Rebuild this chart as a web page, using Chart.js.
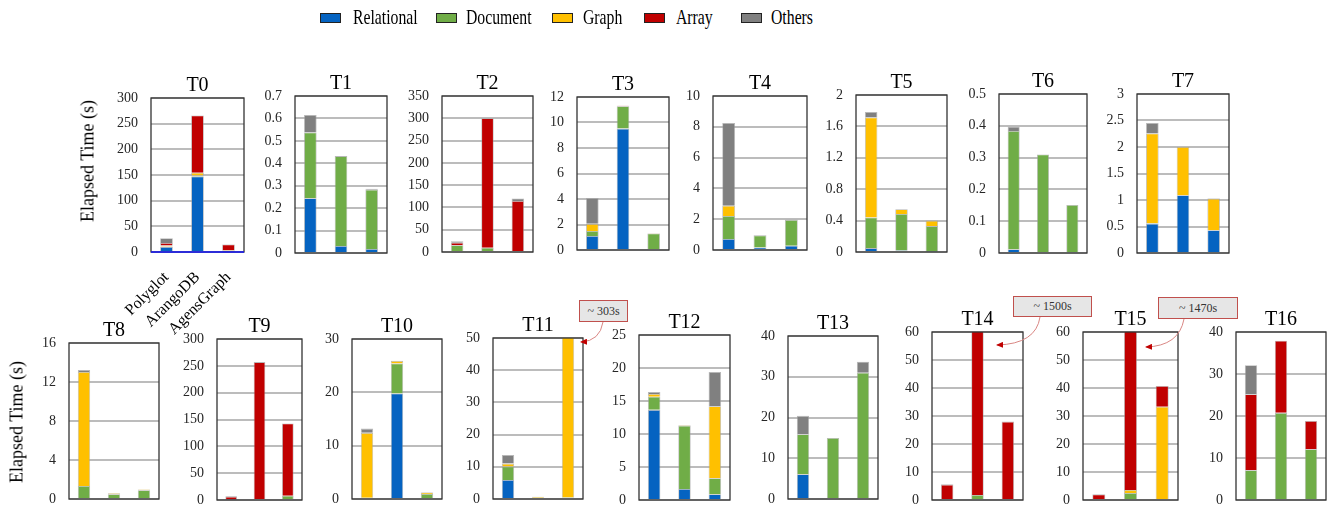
<!DOCTYPE html>
<html><head><meta charset="utf-8">
<script src="https://cdn.jsdelivr.net/npm/chart.js@4.4.1/dist/chart.umd.min.js"></script>
<style>
body{margin:0;background:#fff;width:1332px;height:513px;overflow:hidden;position:relative;font-family:"Liberation Serif","Times New Roman",serif;}
canvas{position:absolute;}
.lbox{position:absolute;top:13px;width:19px;height:8px;border:1px solid #222;}
.ltxt{position:absolute;top:5px;height:24px;line-height:24px;font-size:21px;color:#000;white-space:nowrap;transform:scaleX(0.75);transform-origin:0 50%;}
.ytitle{position:absolute;font-size:18px;white-space:nowrap;transform:translate(-50%,-50%) rotate(-90deg);color:#000;}
.note{position:absolute;background:#e6e6e6;border:1.5px solid #c0504d;box-sizing:border-box;font-size:12px;display:flex;align-items:center;justify-content:center;color:#333;z-index:6;}
</style></head><body>
<script>
// ---- data ----
const tasks = ['T0','T1','T2','T3','T4','T5','T6','T7','T8','T9','T10','T11','T12','T13','T14','T15','T16'];
const systems = ['Polyglot','ArangoDB','AgensGraph'];
const seriesNames = ['Relational','Document','Graph','Array','Others'];
const relational = [[10,147,0.5],[0.244,0.031,0.018],[0,0,0],[1.1,9.52,0],[0.71,0.17,0.28],[0.05,0.02,0.005],[0.012,0.003,0.002],[0.555,1.09,0.43],[0,0,0],[1,0,0],[0,19.8,0],[5.9,0,0],[13.66,1.67,0.86],[6.1,0,0],[0,0,0],[0,0,0],[0,0,0]];
const documentDB = [[0.5,2,0.5],[0.293,0.401,0.264],[15,9.8,2],[0.4,1.75,1.3],[1.5,0.78,1.67],[0.39,0.465,0.325],[0.372,0.307,0.149],[0.01,0,0.005],[1.33,0.5,0.9],[0,2,8],[0.25,5.6,0.94],[4.2,0.4,0.5],[2.0,9.6,2.44],[9.8,15,31],[0,1.8,0],[0,2.5,0],[7.1,20.75,12.1]];
const graph = [[2,5.5,2.5],[0,0,0],[0,0,0],[0.55,0.03,0.02],[0.67,0,0],[1.275,0.06,0.07],[0,0,0],[1.69,0.91,0.59],[11.7,0.08,0.08],[0,0,0],[12.15,0.5,0.25],[0.9,0.3,302.5],[0.4,0.1,10.9],[0,0,0],[0,0,0],[0.4,1.1,33.3],[0,0,0]];
const arrayDB = [[5,111.5,11],[0,0,0],[6,290.2,112.7],[0,0.02,0],[0,0,0],[0,0,0],[0,0,0],[0,0,0],[0,0,0],[5,255,134.5],[0,0,0],[0,0,0],[0,0,0],[0,0,0],[5.5,1498.2,28],[1.6,1466.4,7.45],[18.1,17.15,6.7]];
const others = [[9.5,0,0.5],[0.078,0,0.004],[3,0,5.3],[2.02,0,0],[5.37,0.02,0.02],[0.07,0,0],[0.013,0,0],[0.2,0,0.01],[0.2,0,0],[1.5,0,0],[0.8,0,0.06],[2.7,0,0],[0.3,0,5.2],[4.5,0,2.7],[0.2,0,0],[0.1,0,0],[6.9,0,0]];
const yMax = [300,0.7,350,12,10,2,0.5,3,16,300,30,50,25,40,60,60,40];
const yStep = [50,0.1,50,2,2,0.4,0.1,0.5,4,50,10,10,5,10,10,10,10];
const annotations = ['~ 303s','~ 1500s','~ 1470s'];

// ---- layout (plot area boxes: left, top, right, bottom) ----
const boxes = [[151,98,244,252],[295,96,387,253],[442,96,533,252],[577,97,669,250],[713,96,807,250],[856,95,947,252],[999,94,1087,253],[1137,94,1229,253],
               [69,343,159,499],[217,339,302,500],[352,339,442,499],[493,338,583,499],[639,335,730,500],[788,336,878,499],[932,332,1023,500],[1083,332,1178,500],[1236,332,1326,500]];
const colors = ['#0563C1','#70AD47','#FFC000','#C00000','#808080'];
const seriesData = [relational, documentDB, graph, arrayDB, others];
const FONT = '"Liberation Serif","Times New Roman",serif';

const framePlugin = {
  id: 'frame',
  afterDatasetsDraw(chart, args, opts) {
    const {ctx, chartArea: a} = chart;
    ctx.save();
    ctx.strokeStyle = '#333';
    ctx.lineWidth = 1.3;
    ctx.strokeRect(a.left, a.top, a.right - a.left, a.bottom - a.top);
    if (opts.blue) {
      ctx.strokeStyle = '#1a1aff';
      ctx.lineWidth = 1.6;
      ctx.beginPath(); ctx.moveTo(a.left, a.bottom); ctx.lineTo(a.right, a.bottom); ctx.stroke();
    }
    ctx.restore();
  }
};

const fmt = v => String(Number(Number(v).toFixed(4)));

tasks.forEach((t, i) => {
  const [L, T, R, B] = boxes[i];
  const AX = 62, PT = 36;
  const XH = i === 0 ? 90 : 0;
  const PB = i === 0 ? 4 : 22;
  const W = (R - L) + 2 * AX, H = (B - T) + PT + XH + PB;
  const cv = document.createElement('canvas');
  cv.width = W; cv.height = H;
  cv.style.left = (L - AX) + 'px'; cv.style.top = (T - PT) + 'px';
  cv.style.width = W + 'px'; cv.style.height = H + 'px';
  document.body.appendChild(cv);
  new Chart(cv, {
    type: 'bar',
    data: {
      labels: systems,
      datasets: seriesNames.map((n, k) => ({
        label: n, data: seriesData[k][i], backgroundColor: colors[k],
        borderColor: 'rgba(160,160,160,0.75)', borderWidth: 0.8,
        barPercentage: 0.41, categoryPercentage: 1
      }))
    },
    options: {
      responsive: false, animation: false, devicePixelRatio: 1,
      layout: {padding: {top: 12, left: 0, right: 0, bottom: PB}},
      plugins: {
        legend: {display: false}, tooltip: {enabled: false},
        title: {display: true, text: t, font: {family: FONT, size: 20, weight: 'normal'}, color: '#000', padding: {top: 0, bottom: 0}},
        frame: {blue: i === 0}
      },
      scales: {
        x: {stacked: true, display: i === 0, grid: {display: false, drawTicks: false}, border: {display: false},
            ticks: {autoSkip: false, minRotation: 45, maxRotation: 45, padding: 16, font: {family: FONT, size: 16}, color: '#000'},
            afterFit(s) { s.height = XH; }},
        y: {stacked: true, min: 0, max: yMax[i],
            ticks: {stepSize: yStep[i], padding: 13, font: {family: FONT, size: 14}, color: '#262626', callback: fmt},
            grid: {color: '#bcbcbc', lineWidth: 2, drawTicks: false}, border: {display: false},
            afterFit(s) { s.width = AX; }},
        yr: {position: 'right', grid: {display: false}, border: {display: false}, ticks: {display: false},
             afterFit(s) { s.width = AX; }}
      }
    },
    plugins: [framePlugin]
  });
});

// legend
const legendPos = [[320,353],[436,466],[552,583],[644,676],[741,771]];
seriesNames.forEach((n, k) => {
  const b = document.createElement('div'); b.className = 'lbox';
  b.style.left = legendPos[k][0] + 'px'; b.style.background = colors[k];
  document.body.appendChild(b);
  const tx = document.createElement('div'); tx.className = 'ltxt';
  tx.style.left = legendPos[k][1] + 'px'; tx.textContent = n;
  document.body.appendChild(tx);
});
// axis titles
[[88,161],[17,422]].forEach(p => {
  const d = document.createElement('div'); d.className = 'ytitle';
  d.style.left = p[0] + 'px'; d.style.top = p[1] + 'px'; d.textContent = 'Elapsed Time (s)';
  document.body.appendChild(d);
});
// callouts
const notePos = [[579,300,49,22],[1013,296,79,21],[1158,297,80,22]];
notePos.forEach((p, k) => {
  const d = document.createElement('div'); d.className = 'note';
  d.style.left = p[0] + 'px'; d.style.top = p[1] + 'px'; d.style.width = p[2] + 'px'; d.style.height = p[3] + 'px';
  d.textContent = annotations[k];
  document.body.appendChild(d);
});
</script>
<svg width="1332" height="513" style="position:absolute;left:0;top:0;z-index:7;pointer-events:none">
<defs><marker id="ah" markerWidth="7" markerHeight="6" refX="6" refY="3" orient="auto" markerUnits="userSpaceOnUse"><path d="M0,0 L7,3 L0,6 z" fill="#c00000"/></marker></defs>
<path d="M603,322 Q600,341 581,342" stroke="#d98683" fill="none" stroke-width="1" marker-end="url(#ah)"/>
<path d="M1040,317 Q1036,344 997,345" stroke="#d98683" fill="none" stroke-width="1" marker-end="url(#ah)"/>
<path d="M1184,319 Q1179,346 1146,347" stroke="#d98683" fill="none" stroke-width="1" marker-end="url(#ah)"/>
</svg>
</body></html>
